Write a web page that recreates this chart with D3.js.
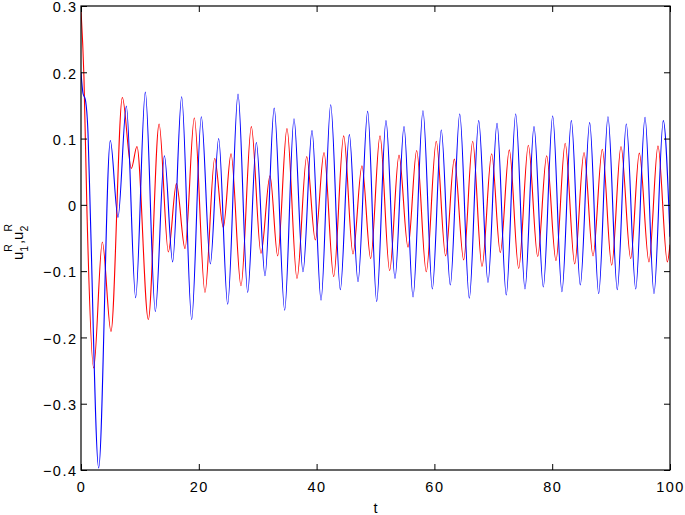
<!DOCTYPE html>
<html>
<head>
<meta charset="utf-8">
<script src="https://cdn.jsdelivr.net/npm/d3@7"></script>
<style>
  body { margin: 0; background: #fff; }
  text { font-family: "Liberation Sans", Arial, Helvetica, sans-serif; fill: #000; }
</style>
</head>
<body>
<div id="chart"></div>
<script>
// red curve (u_2^R): turning points
const tRed = [0, 0.5, 1.02, 2.15, 3.62, 5.09, 7.02, 8.55, 9.5, 11.43, 13.26, 14.83, 16.2, 17.66, 19.24,
  21.05, 22.7, 24.16, 25.47, 27.16, 28.92, 30.56, 32.09, 33.39, 34.97, 36.67, 38.32, 39.78, 41.26, 42.9,
  44.6, 46.18, 47.7, 49.18, 50.76, 52.4, 53.99, 55.52, 56.99, 58.62, 60.32, 61.9, 63.38, 64.97, 66.5,
  68.08, 69.72, 71.19, 72.72, 74.31, 75.95, 77.54, 79.06, 80.64, 82.2, 83.82, 85.4, 86.93, 88.51, 90.1,
  91.68, 93.33, 94.79, 96.43, 97.96, 99.55, 100];
const uRed = [0.294, 0.193, -0.013, -0.246, -0.056, -0.191, 0.162, 0.055, 0.088, -0.173, 0.122, -0.071, 0.032, -0.066, 0.131,
  -0.132, 0.070, -0.034, 0.077, -0.122, 0.118, -0.073, 0.044, -0.077, 0.115, -0.111, 0.073, -0.053, 0.079, -0.108,
  0.104, -0.074, 0.059, -0.081, 0.104, -0.099, 0.075, -0.064, 0.082, -0.101, 0.096, -0.077, 0.069, -0.083, 0.096,
  -0.093, 0.077, -0.072, 0.083, -0.096, 0.090, -0.078, 0.074, -0.084, 0.093, -0.089, 0.079, -0.077, 0.084, -0.091,
  0.088, -0.081, 0.078, -0.086, 0.089, -0.086, -0.06];

// blue curve (u_1^R)
const tBlue = [0, 0.34, 0.73, 1.19, 1.58, 3.0, 4.98, 6.28, 7.7, 9.28, 10.92, 12.62, 14.16, 15.56, 17.09,
  18.79, 20.43, 21.96, 23.37, 24.9, 26.66, 28.3, 29.77, 31.24, 32.8, 34.58, 36.16, 37.69, 39.22, 40.75,
  42.39, 44.03, 45.56, 47.03, 48.67, 50.2, 51.78, 53.31, 54.84, 56.37, 58.06, 59.65, 61.17, 62.7, 64.3,
  65.93, 67.52, 69.1, 70.63, 72.2, 73.8, 75.38, 76.91, 78.49, 80.08, 81.65, 83.25, 84.77, 86.36, 87.89,
  89.47, 91.05, 92.58, 94.18, 95.76, 97.28, 98.86, 100];
const uBlue = [0.200, 0.168, 0.159, 0.108, -0.013, -0.397, 0.097, -0.019, 0.149, -0.140, 0.170, -0.161, 0.074, -0.086, 0.163,
  -0.173, 0.133, -0.089, 0.100, -0.150, 0.167, -0.132, 0.094, -0.107, 0.146, -0.159, 0.130, -0.101, 0.112, -0.144,
  0.151, -0.128, 0.106, -0.116, 0.141, -0.146, 0.127, -0.111, 0.118, -0.139, 0.142, -0.127, 0.113, -0.121, 0.137,
  -0.141, 0.127, -0.117, 0.123, -0.136, 0.137, -0.127, 0.118, -0.124, 0.134, -0.131, 0.127, -0.121, 0.124, -0.134,
  0.133, -0.128, 0.122, -0.127, 0.132, -0.134, 0.127, -0.048];

const xTicks = [0, 20, 40, 60, 80, 100];
const yTicks = [-0.4, -0.3, -0.2, -0.1, 0, 0.1, 0.2, 0.3];

const W = 685, H = 515;
const margin = { top: 6, right: 15, bottom: 45, left: 81 };
const width = W - margin.left - margin.right;
const height = H - margin.top - margin.bottom;

const svg = d3.select("#chart").append("svg")
  .attr("width", W).attr("height", H);
svg.append("rect").attr("width", W).attr("height", H).attr("fill", "#fff");

const g = svg.append("g").attr("transform", `translate(${margin.left},${margin.top})`);

const x = d3.scaleLinear().domain([0, 100]).range([0, width]);
const y = d3.scaleLinear().domain([-0.4, 0.3]).range([height, 0]);

const fmt = d => d === 0 ? "0" : d3.format(".1f")(d);

// clip lines to the axes box
g.append("clipPath").attr("id", "clip")
  .append("rect").attr("width", width).attr("height", height);

const line = d3.line()
  .x(d => x(d[0]))
  .y(d => y(d[1]))
  .curve(d3.curveMonotoneX);

const lines = g.append("g").attr("clip-path", "url(#clip)");
lines.append("path")
  .datum(d3.zip(tRed, uRed))
  .attr("fill", "none")
  .attr("stroke", "#ff0000")
  .attr("stroke-width", 1.1)
  .attr("d", line);
lines.append("path")
  .datum(d3.zip(tBlue, uBlue))
  .attr("fill", "none")
  .attr("stroke", "#0000ff")
  .attr("stroke-width", 1.1)
  .attr("d", line);

// axes, ticks point inward on all four sides
function styleAxis(sel) {
  sel.select(".domain").remove();
  sel.selectAll(".tick line").attr("stroke", "#000").attr("stroke-width", 1);
  sel.selectAll("text")
    .style("font-size", "14.5px")
    .style("letter-spacing", "1.5px")
    .attr("fill", "#000");
}

g.append("g")
  .attr("transform", `translate(0,${height})`)
  .call(d3.axisBottom(x).tickValues(xTicks).tickFormat(d3.format("d"))
    .tickSizeInner(-6).tickSizeOuter(0).tickPadding(12))
  .call(styleAxis);

g.append("g")
  .call(d3.axisTop(x).tickValues(xTicks).tickFormat("")
    .tickSizeInner(-6).tickSizeOuter(0))
  .call(styleAxis);

g.append("g")
  .call(d3.axisLeft(y).tickValues(yTicks).tickFormat(fmt)
    .tickSizeInner(-6).tickSizeOuter(0).tickPadding(3.5))
  .call(styleAxis)
  .call(a => a.selectAll("text").attr("dy", "0.4em"));

g.append("g")
  .attr("transform", `translate(${width},0)`)
  .call(d3.axisRight(y).tickValues(yTicks).tickFormat("")
    .tickSizeInner(-6).tickSizeOuter(0))
  .call(styleAxis);

// frame
g.append("rect")
  .attr("width", width).attr("height", height)
  .attr("fill", "none").attr("stroke", "#000").attr("stroke-width", 1.2);

// x label
svg.append("text")
  .attr("x", margin.left + width / 2)
  .attr("y", 513)
  .attr("text-anchor", "middle")
  .style("font-size", "14.5px")
  .text("t");

// y label u_1^R,u_2^R
const yl = svg.append("text")
  .attr("transform", `translate(23,242) rotate(-90)`)
  .attr("text-anchor", "middle")
  .style("font-size", "15px");
yl.append("tspan").text("u");
yl.append("tspan").attr("dy", 5).style("font-size", "10.5px").text("1");
yl.append("tspan").attr("dx", -5.8).attr("dy", -16).style("font-size", "10.5px").text("R");
yl.append("tspan").attr("dy", 11).text(",");
yl.append("tspan").text("u");
yl.append("tspan").attr("dy", 5).style("font-size", "10.5px").text("2");
yl.append("tspan").attr("dx", -5.8).attr("dy", -16).style("font-size", "10.5px").text("R");
</script>
</body>
</html>
